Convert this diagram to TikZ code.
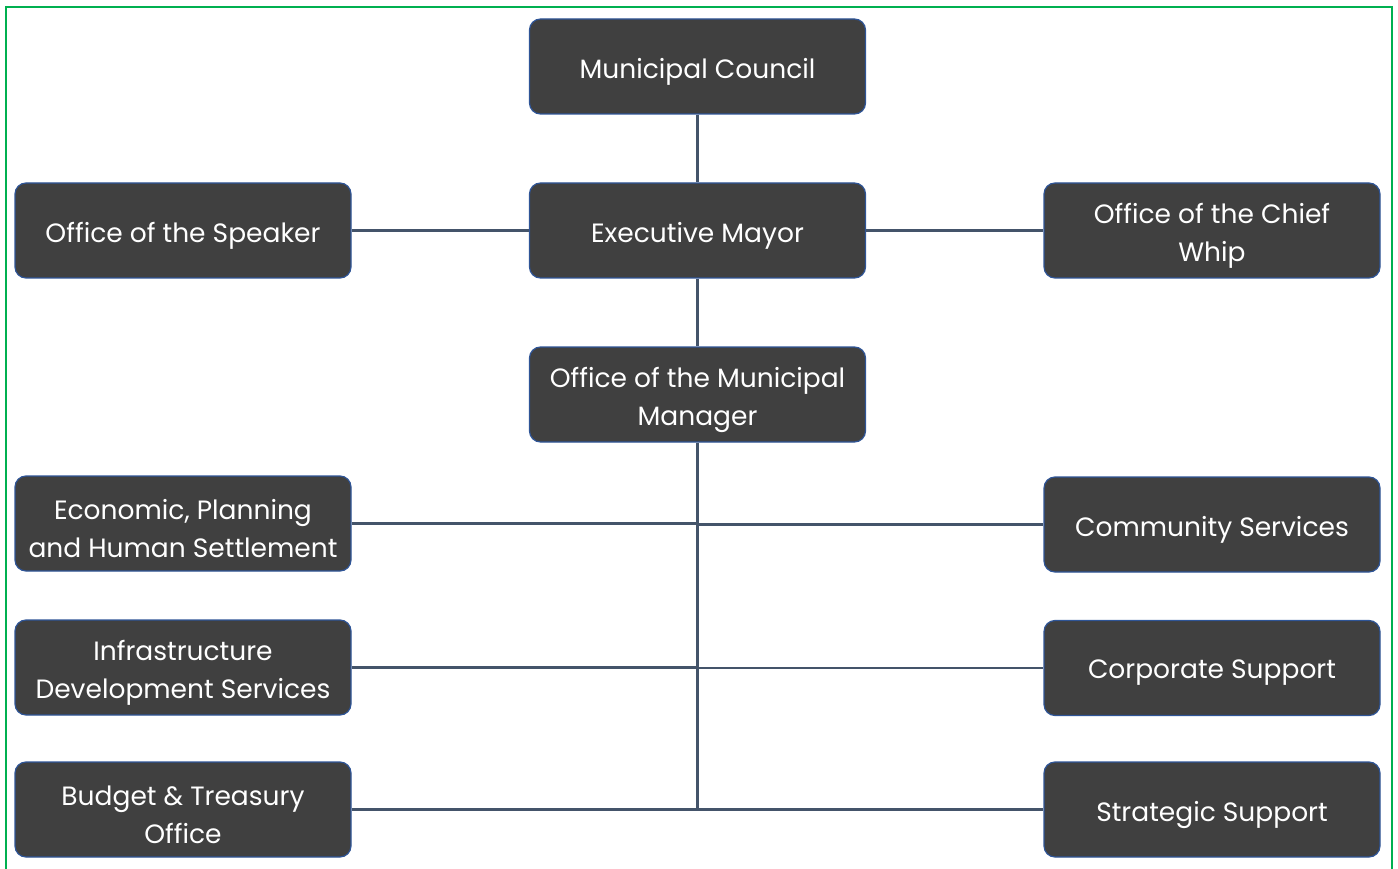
\documentclass[tikz,border=0pt]{standalone}
\usepackage{fontspec}
\setmainfont{Poppins}
\begin{document}
\begin{tikzpicture}[x=1pt,y=-1pt,
  orgbox/.style={draw=boxblue,line width=1.2pt,fill=boxfill,rounded corners=11pt,
    minimum width=336pt,minimum height=95pt,inner sep=0pt,
    label={[txt]center:#1}},
  txt/.style={text=white,align=center,font=\fontsize{26.5}{38}\selectfont,inner sep=0pt,yshift=-5pt},
  link/.style={draw=linecol,line width=2.3pt}]
\definecolor{boxfill}{HTML}{404040}
\definecolor{boxblue}{HTML}{2F5597}
\definecolor{linecol}{HTML}{44546A}
\definecolor{framegreen}{HTML}{00B050}
\useasboundingbox (0,0) rectangle (1398,869);
\begin{scope}
\clip (0,0) rectangle (1398,869);
\draw[framegreen,line width=2pt] (6,880) -- (6,7) -- (1392,7) -- (1392,880);
\end{scope}
\node[orgbox={Municipal Council}] (council) at (697.5,66.5) {};
\node[orgbox={Executive Mayor}] (mayor) at (697.5,230.5) {};
\node[orgbox={Office of the Municipal\\Manager}] (manager) at (697.5,394.5) {};
\node[orgbox={Office of the Speaker}] (speaker) at (183,230.5) {};
\node[orgbox={Office of the Chief\\Whip}] (whip) at (1212,230.5) {};
\node[orgbox={Economic, Planning\\and Human Settlement}] (econ) at (183,523.5) {};
\node[orgbox={Community Services}] (community) at (1212,524.5) {};
\node[orgbox={Infrastructure\\Development Services}] (infra) at (183,667.5) {};
\node[orgbox={Corporate Support}] (corporate) at (1212,668) {};
\node[orgbox={Budget \& Treasury\\Office}] (budget) at (183,809.5) {};
\node[orgbox={Strategic Support}] (strategic) at (1212,809.5) {};
\coordinate (jbottom) at (697.5,809.5);
\path[link] (council.south) -- (mayor.north);
\path[link] (mayor.south) -- (manager.north);
\path[link] (speaker.east) -- (mayor.west);
\path[link] (mayor.east) -- (whip.west);
\path[link] (manager.south) -- (jbottom);
\path[link] (econ.east) -- (econ.east -| jbottom);
\path[link] (community.west -| jbottom) -- (community.west);
\path[link] (infra.east) -- (infra.east -| jbottom);
\path[link] (corporate.west -| jbottom) -- (corporate.west);
\path[link] (budget.east) -- (strategic.west);
\end{tikzpicture}
\end{document}
